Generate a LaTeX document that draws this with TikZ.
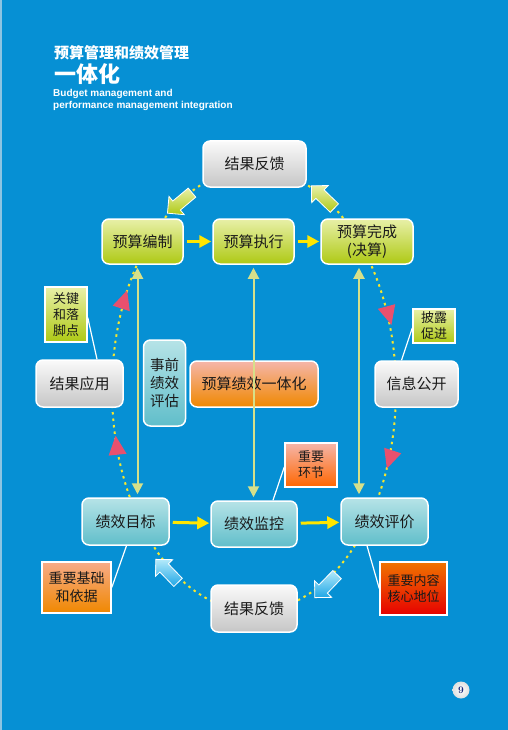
\documentclass[tikz,border=0pt]{standalone}
\usepackage{fontspec}
\newfontfamily\cjk{Noto Sans CJK SC}
\newfontfamily\lat{Liberation Sans}
\usetikzlibrary{arrows.meta,positioning,calc,shapes.geometric,shapes.arrows}
\definecolor{bg}{HTML}{0690D4}
\definecolor{edge}{HTML}{8CC4E2}
\definecolor{ink}{HTML}{1A1A1A}
\definecolor{grayt}{HTML}{FAFAFA}
\definecolor{grayb}{HTML}{C6C6C6}
\definecolor{greent}{HTML}{E8F0A8}
\definecolor{greenb}{HTML}{AEC914}
\definecolor{tealt}{HTML}{B6E3E7}
\definecolor{tealb}{HTML}{60BECA}
\definecolor{oranget}{HTML}{F5B6AA}
\definecolor{orangeb}{HTML}{F08800}
\definecolor{redt}{HTML}{F07400}
\definecolor{redb}{HTML}{E60000}
\definecolor{flowy}{HTML}{FFE600}
\definecolor{linkg}{HTML}{D6E08A}
\definecolor{dotyel}{HTML}{F6E62E}
\definecolor{tri}{HTML}{E8506E}
\definecolor{navy}{HTML}{1C2A7A}
\definecolor{bluet}{HTML}{B4EAFA}
\definecolor{blueb}{HTML}{1EA6E6}
\tikzset{
  box/.style={draw=white, line width=1.5pt, rounded corners=7pt, align=center,
    text=ink, inner sep=0pt, font=\cjk\fontsize{15}{18}\selectfont},
  graybox/.style={box, top color=grayt, bottom color=grayb},
  greenbox/.style={box, top color=greent, bottom color=greenb},
  tealbox/.style={box, top color=tealt, bottom color=tealb},
  orangebox/.style={box, top color=oranget, bottom color=orangeb},
  tag/.style={draw=white, line width=1.5pt, align=center, text=ink, inner sep=0pt,
    font=\cjk\fontsize{13}{16}\selectfont},
  flow/.style={-{Triangle[length=12pt,width=12pt]}, draw=flowy, line width=3pt,
    shorten <=3pt, shorten >=1pt},
  link/.style={{Triangle[length=11pt,width=11pt]}-{Triangle[length=11pt,width=11pt]},
    draw=linkg, line width=2pt, shorten <=3pt, shorten >=3pt},
  ring/.style={draw=dotyel, line width=2pt, dash pattern=on 2.5pt off 4pt},
  lead/.style={draw=white, line width=1.2pt},
  redtri/.style={isosceles triangle, isosceles triangle stretches, fill=tri, draw=none,
    minimum width=18pt, minimum height=19pt, inner sep=0pt},
  fatarrow/.style={single arrow, draw=white, line width=0.8pt, inner sep=5.5pt,
    minimum height=32pt, minimum width=22pt, single arrow head extend=6pt},
  garrow/.style={fatarrow, top color=greent, bottom color=greenb},
  barrow/.style={fatarrow, top color=bluet, bottom color=blueb},
}
\begin{document}
\begin{tikzpicture}[x=1pt,y=-1pt]
  \useasboundingbox (0,0) rectangle (508,730);
  % page
  \fill[bg] (0,0) rectangle (508,730);
  \fill[edge] (0,0) rectangle (2,730);
  % heading
  \node[anchor=west, inner sep=0pt, text=white, font=\cjk\bfseries\fontsize{15}{17}\selectfont] (t1) at (54,53) {预算管理和绩效管理};
  \node[anchor=west, inner sep=0pt, text=white, font=\cjk\bfseries\fontsize{22}{24}\selectfont] (t2) at (54,74) {一体化};
  \node[anchor=north west, inner sep=0pt, text=white, align=left, font=\lat\bfseries\fontsize{10}{12.5}\selectfont] (t3) at (53,89) {Budget management and\\performance management integration};
  % dotted cycle
  \draw[ring] (254,390) ellipse [x radius=142, y radius=221];
  % top row
  \node[graybox, minimum width=103pt, minimum height=46pt] (fk) at (254.5,164) {结果反馈};
  \node[greenbox, minimum width=81pt, minimum height=45pt] (bz) at (142.5,241.5) {预算编制};
  \node[greenbox, minimum width=81pt, minimum height=45pt] (zx) at (253.5,241.5) {预算执行};
  \node[greenbox, minimum width=92pt, minimum height=45pt] (wc) at (367,241.5) {预算完成\\(决算)};
  % middle row
  \node[graybox, minimum width=87pt, minimum height=47pt] (yy) at (79.5,383.5) {结果应用};
  \node[tealbox, minimum width=42pt, minimum height=86pt, font=\cjk\fontsize{14.5}{18}\selectfont] (sq) at (164.5,383) {事前\\绩效\\评估};
  \node[orangebox, minimum width=128pt, minimum height=46pt] (yt) at (254,384) {预算绩效一体化};
  \node[graybox, minimum width=83pt, minimum height=46pt] (gk) at (416.5,384) {信息公开};
  % bottom row
  \node[tealbox, minimum width=87pt, minimum height=47pt] (mb) at (125.5,521.5) {绩效目标};
  \node[tealbox, minimum width=86pt, minimum height=46pt] (jk) at (254,524) {绩效监控};
  \node[tealbox, minimum width=87pt, minimum height=47pt] (pj) at (384.5,521.5) {绩效评价};
  \node[graybox, minimum width=86pt, minimum height=47pt] (fk2) at (254,608.5) {结果反馈};
  % flow arrows
  \draw[flow] (bz) -- (zx);
  \draw[flow] (zx) -- (wc);
  \draw[flow] (mb) -- (jk);
  \draw[flow] (jk) -- (pj);
  \draw[link] ([xshift=-5pt]bz.south) -- ([xshift=-5pt]bz.south |- mb.north);
  \draw[link] (zx.south) -- (zx.south |- jk.north);
  \draw[link] ([xshift=-8pt]wc.south) -- ([xshift=-8pt]wc.south |- pj.north);
  % arrows on the cycle
  \node[garrow, rotate=220] (g1) at (182,201) {};
  \node[garrow, rotate=136] (g2) at (325,199) {};
  \node[barrow, rotate=134] (b1) at (169,573) {};
  \node[barrow, rotate=226] (b2) at (328,584) {};
  \node[redtri, rotate=72] (r1) at (123,303) {};
  \node[redtri, rotate=96] (r2) at (117,449) {};
  \node[redtri, rotate=285] (r3) at (388,312) {};
  \node[redtri, rotate=252] (r4) at (391,456) {};
  % notes
  \node[tag, top color=greent, bottom color=greenb, minimum width=42pt, minimum height=55pt] (gj) at (66,314.5) {关键\\和落\\脚点};
  \node[tag, top color=greent, bottom color=greenb, minimum width=42pt, minimum height=34pt] (pl) at (434,326) {披露\\促进};
  \node[tag, top color=oranget, bottom color=orange!80!red, minimum width=52pt, minimum height=44pt] (hj) at (311,465) {重要\\环节};
  \node[tag, top color=oranget!80!orange, bottom color=orangeb, minimum width=69pt, minimum height=51pt, font=\cjk\fontsize{14}{18}\selectfont] (jc) at (76.5,587.5) {重要基础\\和依据};
  \node[tag, top color=redt, bottom color=redb, minimum width=67pt, minimum height=53pt] (nr) at (413.5,588.5) {重要内容\\核心地位};
  \draw[lead] ([yshift=-3pt]gj.east) -- ([xshift=17.5pt]yy.north);
  \draw[lead] ([yshift=-2pt]pl.west) -- ([xshift=-15pt]gk.north);
  \draw[lead] ([yshift=-2pt]hj.west) -- ([xshift=19pt]jk.north);
  \draw[lead] ([xshift=1pt]mb.south) -- (jc.east);
  \draw[lead] ([xshift=-17.5pt]pj.south) -- (nr.west);
  % page number
  \node[circle, inner sep=0pt, minimum size=17pt, inner color=white, outer color=gray!25,
    text=navy, font=\bfseries\fontsize{10}{12}\selectfont] (pg) at (461,690) {9};
\end{tikzpicture}
\end{document}
